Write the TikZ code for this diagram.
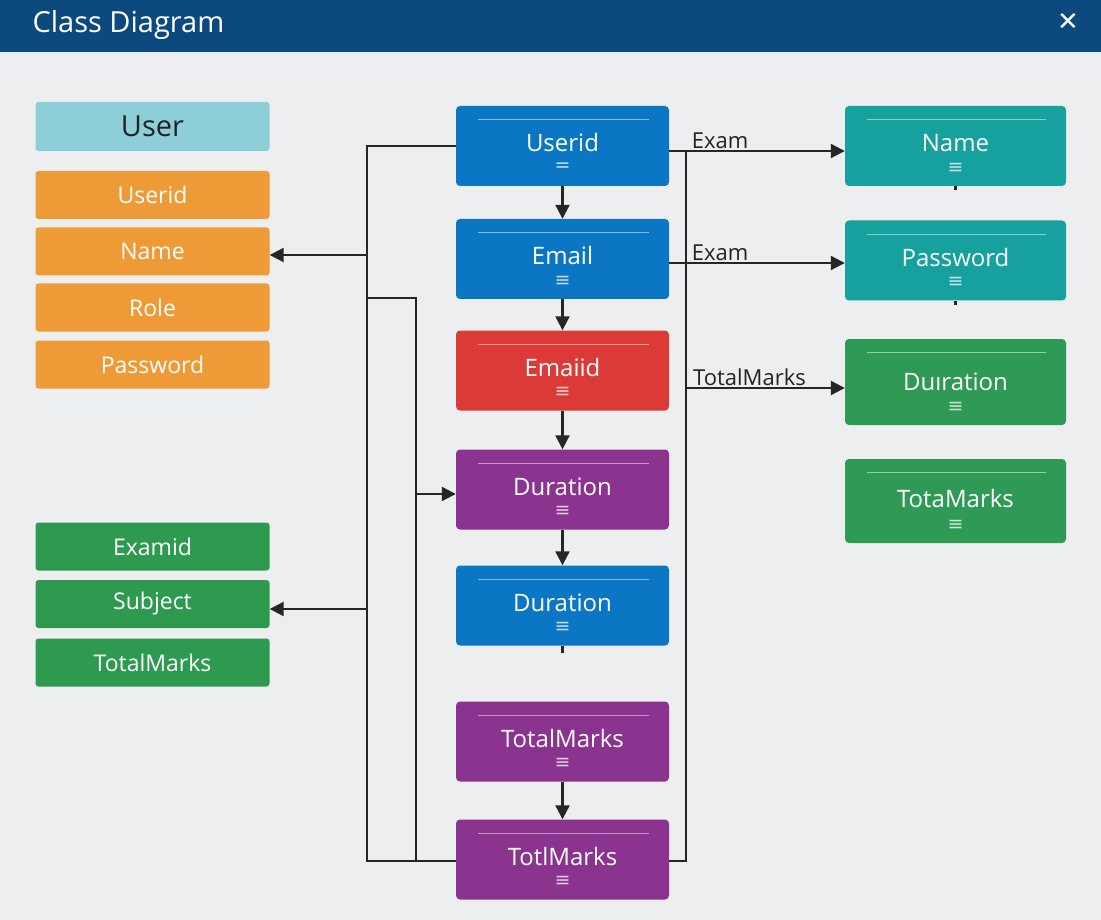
\documentclass[tikz,border=0pt]{standalone}
\usepackage{fontspec}
\setmainfont{Open Sans}
\newfontfamily\symfont{DejaVu Sans}
\usetikzlibrary{arrows.meta}

\definecolor{bgc}{HTML}{EDEEEF}
\definecolor{headc}{HTML}{0C4A7D}
\definecolor{wirec}{HTML}{262626}
\definecolor{labc}{HTML}{222222}
\definecolor{userc}{HTML}{8DCFD9}
\definecolor{orangec}{HTML}{EE9B37}
\definecolor{lgreenc}{HTML}{2E9A50}
\definecolor{bluec}{HTML}{0B77C4}
\definecolor{redc}{HTML}{DC3A36}
\definecolor{purplec}{HTML}{8A348F}
\definecolor{tealc}{HTML}{16A09E}
\definecolor{rgreenc}{HTML}{2F9A55}

\begin{document}
\begin{tikzpicture}[x=1pt,y=-1pt,
  wire/.style={draw=wirec, line width=2.2pt},
  arr/.style={wire, -{Triangle[length=14pt,width=14pt]}},
  lbox/.style={rounded corners=3pt, minimum width=234pt, minimum height=48pt,
    inner sep=0pt, text=white, font=\fontsize{23}{26}\selectfont},
  cbox/.style={rounded corners=4pt, minimum width=213pt, inner ysep=0pt,
    text height=46pt, text depth=34pt, text=white, font=\fontsize{24}{28}\selectfont},
  rbox/.style={cbox, minimum width=221pt},
  lab/.style={text=labc, inner sep=1pt, font=\fontsize{22}{26}\selectfont},
  menu/.style={text=white, opacity=.75, inner sep=0pt, font=\symfont\fontsize{19}{19}\selectfont},
  rim/.style={draw=white, draw opacity=.5, line width=1.2pt}]

  \useasboundingbox (0,0) rectangle (1101,920);
  \fill[bgc] (0,0) rectangle (1101,920);
  \fill[headc] (0,0) rectangle (1101,52);
  \node[anchor=west, text=white, font=\fontsize{29}{33}\selectfont] (title) at (29,25) {Class Diagram};
  \node[text=white, font=\symfont\fontsize{26}{26}\selectfont] (close) at (1068,22) {✕};

  % left column
  \node[lbox, fill=userc, minimum height=49pt, text=labc, font=\fontsize{29}{33}\selectfont] (user) at (152.5,126.5) {User};
  \node[lbox, fill=orangec] (luid) at (152.5,195) {Userid};
  \node[lbox, fill=orangec] (lname) at (152.5,251.5) {Name};
  \node[lbox, fill=orangec] (lrole) at (152.5,307.5) {Role};
  \node[lbox, fill=orangec] (lpass) at (152.5,364.5) {Password};
  \node[lbox, fill=lgreenc] (lexam) at (152.5,546.5) {Examid};
  \node[lbox, fill=lgreenc] (lsub) at (152.5,604) {Subject};
  \node[lbox, fill=lgreenc] (ltot) at (152.5,662.5) {TotalMarks};

  % middle column
  \node[cbox, fill=bluec] (cuid) at (562.5,146) {Userid};
  \node[cbox, fill=bluec] (cem) at (562.5,259) {Email};
  \node[cbox, fill=redc] (cred) at (562.5,370.5) {Emaiid};
  \node[cbox, fill=purplec] (cdur) at (562.5,489.5) {Duration};
  \node[cbox, fill=bluec] (cdur2) at (562.5,605.5) {Duration};
  \node[cbox, fill=purplec] (ctot) at (562.5,741.5) {TotalMarks};
  \node[cbox, fill=purplec] (ctot2) at (562.5,859.5) {TotlMarks};

  % right column
  \node[rbox, fill=tealc] (rname) at (955.5,146) {Name};
  \node[rbox, fill=tealc] (rpass) at (955.5,260.5) {Password};
  \node[rbox, fill=rgreenc, text height=51pt, text depth=35pt] (rdur) at (955.5,382) {Duıration};
  \node[rbox, fill=rgreenc, text height=48pt, text depth=36pt] (rtot) at (955.5,501) {TotaMarks};

  % box trim
  \draw[rim] ([xshift=22pt,yshift=-14pt]cuid.north west) -- ([xshift=-20pt,yshift=-14pt]cuid.north east);
  \node[menu] (cuid-m) at ([yshift=19pt]cuid.south) {=};
  \foreach \b in {cem,cred,cdur,cdur2,ctot,ctot2,rname,rpass,rdur,rtot} {
    \draw[rim] ([xshift=22pt,yshift=-14pt]\b.north west) -- ([xshift=-20pt,yshift=-14pt]\b.north east);
    \node[menu] (\b-m) at ([yshift=18pt]\b.south) {≡};
  }
  \draw[wire] (cdur2.south) -- ++(0,7);
  \draw[wire] (rname.south) -- ++(0,4);
  \draw[wire] (rpass.south) -- ++(0,4);

  % middle chain
  \draw[arr] (cuid) -- (cem);
  \draw[arr] (cem) -- (cred);
  \draw[arr] (cred) -- (cdur);
  \draw[arr] (cdur) -- (cdur2);
  \draw[arr] (ctot) -- (ctot2);

  % left buses
  \coordinate (lt) at (367,146);
  \coordinate (lb) at (367,861);
  \coordinate (it) at (416,298);
  \draw[wire] (cuid.west) -- (lt) -- (lb) -- (ctot2.west |- lb);
  \draw[arr] (lt |- 0,255) -- (lname.east |- 0,255);
  \draw[arr] (lt |- 0,609) -- (lsub.east |- 0,609);
  \draw[wire] (lt |- it) -- (it) -- (it |- lb);
  \draw[arr] (it |- 0,494) -- (cdur.west |- 0,494);

  % right bus
  \coordinate (rt) at (686,151);
  \draw[wire] (rt) -- (rt |- lb) -- (ctot2.east |- lb);
  \draw[arr] (cuid.east |- rt) -- (rname.west |- rt) node (ex1) [lab, pos=.29, above] {Exam};
  \draw[arr] (cem.east |- 0,263) -- (rpass.west |- 0,263) node (ex2) [lab, pos=.29, above] {Exam};
  \draw[arr] (rt |- 0,388) -- (rdur.west |- 0,388) node (tm) [lab, pos=.4, above] {TotalMarks};
\end{tikzpicture}
\end{document}
